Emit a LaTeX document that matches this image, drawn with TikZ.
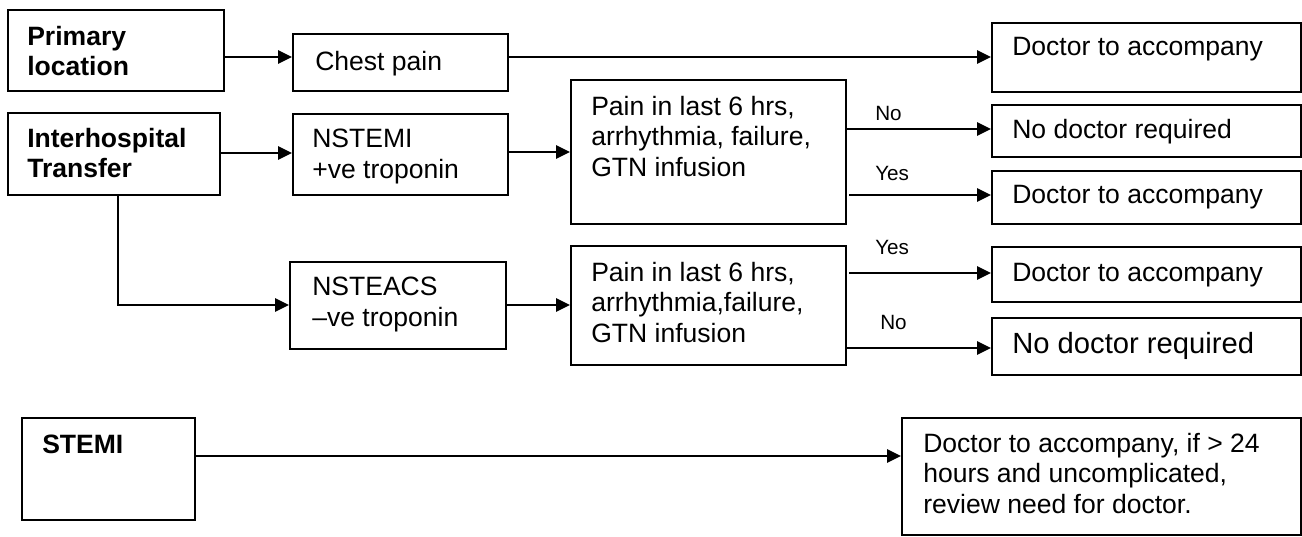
\documentclass[tikz,border=0pt]{standalone}
\usepackage{fontspec}
\setmainfont{Liberation Sans}
\usetikzlibrary{arrows.meta}
\begin{document}
\begin{tikzpicture}[x=0.75pt,y=-0.75pt,
  box/.style={draw,line width=1.4pt,inner sep=0pt,anchor=north west},
  txt/.style={anchor=base west,inner sep=0pt,align=left,font=\fontsize{19.9pt}{22.7pt}\selectfont},
  btxt/.style={txt,font=\fontsize{19.9pt}{22.4pt}\selectfont\bfseries},
  lbl/.style={anchor=base west,inner sep=0pt,font=\fontsize{15.5pt}{18pt}\selectfont},
  arr/.style={line width=1.4pt,-{Triangle[length=10.5pt,width=10pt]}},
  ln/.style={line width=1.4pt}]
\useasboundingbox (0,0) rectangle (1302,536);
% boxes
\node[box,minimum width=216*0.75pt,minimum height=81*0.75pt] (prim) at (7,9) {};
\node[box,minimum width=212*0.75pt,minimum height=82*0.75pt] (inter) at (7,112) {};
\node[box,minimum width=215*0.75pt,minimum height=57*0.75pt] (chest) at (292,33) {};
\node[box,minimum width=215*0.75pt,minimum height=81*0.75pt] (nstemi) at (292,113) {};
\node[box,minimum width=216*0.75pt,minimum height=87*0.75pt] (nsteacs) at (289,261) {};
\node[box,minimum width=275*0.75pt,minimum height=144*0.75pt] (pain1) at (570,79) {};
\node[box,minimum width=275*0.75pt,minimum height=119*0.75pt] (pain2) at (570,245) {};
\node[box,minimum width=309*0.75pt,minimum height=69*0.75pt] (doc1) at (991,22) {};
\node[box,minimum width=309*0.75pt,minimum height=52*0.75pt] (ndr1) at (991,104) {};
\node[box,minimum width=309*0.75pt,minimum height=53*0.75pt] (doc2) at (991,170) {};
\node[box,minimum width=309*0.75pt,minimum height=55*0.75pt] (doc3) at (991,246) {};
\node[box,minimum width=309*0.75pt,minimum height=57*0.75pt] (ndr2) at (991,317) {};
\node[box,minimum width=173*0.75pt,minimum height=102*0.75pt] (stemi) at (21,417) {};
\node[box,minimum width=399*0.75pt,minimum height=117*0.75pt] (res) at (901,417) {};
% texts (base anchor = last line)
\node[btxt] (tprim) at (27,75) {Primary\\location};
\node[btxt] (tinter) at (27,177) {Interhospital\\Transfer};
\node[btxt] (tstemi) at (42,453) {STEMI};
\node[txt] (tchest) at (315,70) {Chest pain};
\node[txt] (tnstemi) at (312,178) {NSTEMI\\+ve troponin};
\node[txt] (tnsteacs) at (312,326) {NSTEACS\\–ve troponin};
\node[txt] (tpain1) at (591,176) {Pain in last 6 hrs,\\arrhythmia, failure,\\GTN infusion};
\node[txt] (tpain2) at (591,342) {Pain in last 6 hrs,\\arrhythmia,failure,\\GTN infusion};
\node[txt] (tdoc1) at (1012,55) {Doctor to accompany};
\node[txt] (tndr1) at (1012,138) {No doctor required};
\node[txt] (tdoc2) at (1012,203) {Doctor to accompany};
\node[txt] (tdoc3) at (1012,281) {Doctor to accompany};
\node[txt,font=\fontsize{21.9pt}{25pt}\selectfont] (tndr2) at (1012,353) {No doctor required};
\node[txt] (tres) at (923,513) {Doctor to accompany, if > 24\\hours and uncomplicated,\\review need for doctor.};
% labels
\node[lbl] (lno1) at (875,120) {No};
\node[lbl] (lyes1) at (875,180) {Yes};
\node[lbl] (lyes2) at (875,254) {Yes};
\node[lbl] (lno2) at (880,329) {No};
% connectors
\coordinate (y2s) at (849,195);
\coordinate (y3s) at (849,273);
\coordinate (bend) at (118,305);
\draw[arr] (prim.east |- 0,57) -- (chest.west |- 0,57);
\draw[arr] (chest.east |- 0,57) -- (doc1.west |- 0,57);
\draw[arr] (inter.east |- 0,153) -- (nstemi.west |- 0,153);
\draw[arr] (nstemi.east |- 0,152) -- (pain1.west |- 0,152);
\draw[arr] (pain1.east |- 0,129) -- (ndr1.west |- 0,129);
\draw[arr] (y2s) -- (doc2.west |- y2s);
\draw[arr] (inter.south -| bend) -- (bend) -- (nsteacs.west |- bend);
\draw[arr] (nsteacs.east |- 0,305) -- (pain2.west |- 0,305);
\draw[arr] (y3s) -- (doc3.west |- y3s);
\draw[arr] (pain2.east |- 0,348) -- (ndr2.west |- 0,348);
\draw[arr] (stemi.east |- 0,456) -- (res.west |- 0,456);
\end{tikzpicture}
\end{document}
